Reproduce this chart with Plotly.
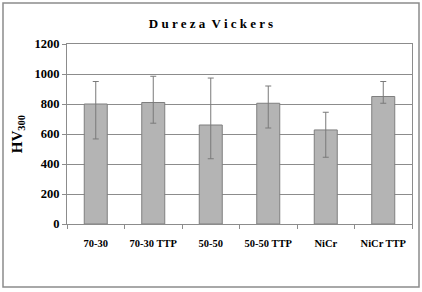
import plotly.graph_objects as go

categories = ["70-30", "70-30 TTP", "50-50", "50-50 TTP", "NiCr", "NiCr TTP"]
hv_mean = [800, 810, 660, 805, 627, 850]
err_upper = [950, 985, 973, 920, 745, 950]
err_lower = [567, 672, 435, 640, 445, 805]
y_ticks = [0, 200, 400, 600, 800, 1000, 1200]

plus = [u - m for u, m in zip(err_upper, hv_mean)]
minus = [m - l for m, l in zip(hv_mean, err_lower)]

font_fam = "Liberation Serif"

fig = go.Figure()
fig.add_trace(go.Bar(
    x=categories, y=hv_mean,
    marker=dict(color="#b4b4b4", line=dict(color="#7f7f7f", width=1)),
    width=0.4,
    error_y=dict(type="data", symmetric=False, array=plus, arrayminus=minus,
                 color="#7a7a7a", thickness=1, width=3),
))

W, H = 422, 292
ml, mr, mt, mb = 67, 10, 44, 68
pw, ph = W - ml - mr, H - mt - mb

def px_x(x):
    return (x - ml) / pw

def px_y(y):
    return (H - mb - y) / ph

fig.update_layout(
    width=W, height=H,
    margin=dict(l=ml, r=mr, t=mt, b=mb, autoexpand=False),
    paper_bgcolor="white", plot_bgcolor="white",
    showlegend=False,
    title=dict(text="<b>D u r e z a  V i c k e r s</b>", x=0.5, xanchor="center",
               y=1 - 23 / H, yanchor="middle",
               font=dict(family=font_fam, size=13, color="black")),
    font=dict(family=font_fam, color="black"),
    xaxis=dict(
        showline=True, linecolor="#8c8c8c", linewidth=1, mirror=True,
        ticks="outside", tickson="boundaries", ticklen=4, tickcolor="#8c8c8c",
        tickvals=categories, ticktext=["<b>%s</b>" % c for c in categories],
        tickfont=dict(family=font_fam, size=10.5, color="black"),
        ticklabelstandoff=9,
        showgrid=False, automargin=False,
    ),
    yaxis=dict(
        range=[0, 1200], tickvals=y_ticks,
        ticktext=["<b>%d</b>" % v for v in y_ticks],
        showline=True, linecolor="#8c8c8c", linewidth=1, mirror=True,
        ticks="outside", ticklen=4, tickcolor="#8c8c8c",
        showgrid=True, gridcolor="#8c8c8c", gridwidth=1,
        tickfont=dict(family=font_fam, size=12.5, color="black"),
        automargin=False,
        title=dict(text="<b>HV<sub>300</sub></b>", standoff=8,
                   font=dict(family=font_fam, size=15, color="black")),
    ),
    bargap=0.6,
)

fig.add_shape(type="rect", xref="paper", yref="paper",
              x0=px_x(3), x1=px_x(419), y0=px_y(287), y1=px_y(3),
              line=dict(color="#8c8c8c", width=1.5), layer="below")

fig.write_html("out.html", config={"displayModeBar": False},
               post_script="document.body.style.margin='0';")
